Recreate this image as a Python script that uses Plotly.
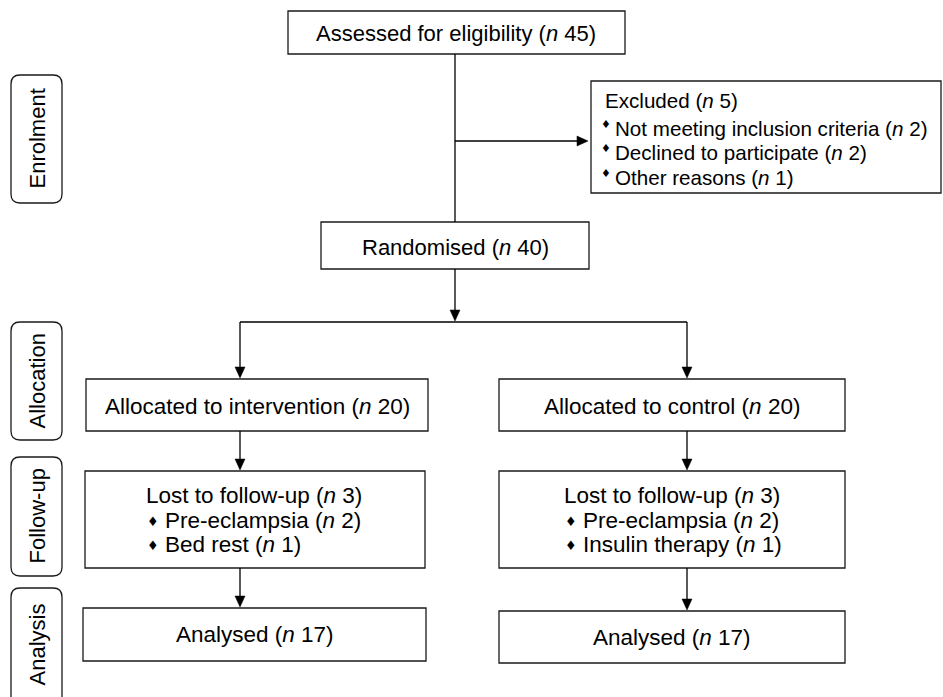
import plotly.graph_objects as go

# ---- content (text data) ----
stage_labels = ["Enrolment", "Allocation", "Follow-up", "Analysis"]
assessed_text = "Assessed for eligibility (<i>n</i> 45)"
randomised_text = "Randomised (<i>n</i> 40)"
excluded_title = "Excluded (<i>n</i> 5)"
excluded_items = ["Not meeting inclusion criteria (<i>n</i> 2)",
                  "Declined to participate (<i>n</i> 2)",
                  "Other reasons (<i>n</i> 1)"]
alloc_texts = ["Allocated to intervention (<i>n</i> 20)", "Allocated to control (<i>n</i> 20)"]
lost_titles = ["Lost to follow-up (<i>n</i> 3)", "Lost to follow-up (<i>n</i> 3)"]
lost_items = [["Pre-eclampsia (<i>n</i> 2)", "Bed rest (<i>n</i> 1)"],
              ["Pre-eclampsia (<i>n</i> 2)", "Insulin therapy (<i>n</i> 1)"]]
analysed_texts = ["Analysed (<i>n</i> 17)", "Analysed (<i>n</i> 17)"]
bullet = "♦"

# ---- layout geometry (pixel space of the 943x697 canvas) ----
W, H = 943, 697
FONT = "Liberation Sans, Arial, sans-serif"
FS = 22.5
LW = 1.3

stage_boxes = [(11, 75, 62, 203), (11, 322, 62, 440), (11, 457, 62, 576), (11, 588, 62, 712)]
stage_text_y = [139, 381, 516, 645]

assessed_box = (288, 11, 625, 54)
random_box = (321, 222, 589, 269)
excluded_box = (591, 81, 941, 193)
alloc_boxes = [(86, 379, 428, 431), (499, 379, 845, 431)]
lost_boxes = [(85, 471, 425, 568), (499, 471, 845, 568)]
analysed_boxes = [(83, 608, 426, 661), (499, 611, 845, 663)]
col_x = [240, 687]

shapes = []
annots = []


def rect(b):
    x0, y0, x1, y1 = b
    shapes.append(dict(type="rect", xref="x", yref="y", x0=x0, y0=y0, x1=x1, y1=y1,
                       line=dict(color="#1a1a1a", width=LW), fillcolor="white", layer="below"))


def rrect(b, r=9):
    x0, y0, x1, y1 = b
    p = (f"M {x0+r},{y0} L {x1-r},{y0} Q {x1},{y0} {x1},{y0+r} L {x1},{y1-r} "
         f"Q {x1},{y1} {x1-r},{y1} L {x0+r},{y1} Q {x0},{y1} {x0},{y1-r} "
         f"L {x0},{y0+r} Q {x0},{y0} {x0+r},{y0} Z")
    shapes.append(dict(type="path", xref="x", yref="y", path=p,
                       line=dict(color="#1a1a1a", width=LW), fillcolor="rgba(0,0,0,0)"))


def line(x0, y0, x1, y1):
    shapes.append(dict(type="line", xref="x", yref="y", x0=x0, y0=y0, x1=x1, y1=y1,
                       line=dict(color="black", width=LW)))


def arrow_down(x, y0, tip):
    line(x, y0, x, tip - 9)
    shapes.append(dict(type="path", xref="x", yref="y",
                       path=f"M {x-5},{tip-11} L {x+5},{tip-11} L {x},{tip} Z",
                       fillcolor="black", line=dict(color="black", width=0.5)))


def arrow_right(x0, y, tip):
    line(x0, y, tip - 9, y)
    shapes.append(dict(type="path", xref="x", yref="y",
                       path=f"M {tip-11},{y-5} L {tip-11},{y+5} L {tip},{y} Z",
                       fillcolor="black", line=dict(color="black", width=0.5)))


def text(x, y, s, anchor="center", angle=0, size=FS, family=FONT):
    annots.append(dict(x=x, y=y, xref="x", yref="y", text=s, showarrow=False,
                       xanchor=anchor, yanchor="middle", textangle=angle,
                       font=dict(family=family, size=size, color="black")))


# stage labels
for b, ty, lab in zip(stage_boxes, stage_text_y, stage_labels):
    rrect(b)
    text((b[0] + b[2]) / 2, ty, lab, angle=-90, size=22)

# top part
rect(assessed_box)
text(456, 33, assessed_text, size=22)
line(455, 54, 455, 222)
arrow_right(455, 141, 588)
rect(excluded_box)
text(603, 100, excluded_title, anchor="left", size=20.6)
for i, s in enumerate(excluded_items):
    yy = 128 + i * 24.5
    text(599, yy - 4, bullet, anchor="left", size=11, family="DejaVu Sans")
    text(613, yy, s, anchor="left", size=20.6)

rect(random_box)
text(455, 247, randomised_text, size=22)
arrow_down(455, 269, 321)
line(col_x[0], 322, col_x[1], 322)

lost_text_x = [144, 562]
for k in range(2):
    cx = col_x[k]
    arrow_down(cx, 322, 378)
    rect(alloc_boxes[k])
    b = alloc_boxes[k]
    text((b[0] + b[2]) / 2, 406, alloc_texts[k])
    arrow_down(cx, 431, 470)
    rect(lost_boxes[k])
    tx = lost_text_x[k]
    text(tx, 495, lost_titles[k], anchor="left")
    for i, s in enumerate(lost_items[k]):
        yy = 520 + i * 24.5
        text(tx + 1, yy + 1, bullet, anchor="left", size=13, family="DejaVu Sans")
        text(tx + 19, yy, s, anchor="left")
    arrow_down(cx, 568, analysed_boxes[k][1] - 1)
    b = analysed_boxes[k]
    rect(b)
    text((b[0] + b[2]) / 2, (b[1] + b[3]) / 2, analysed_texts[k])

fig = go.Figure()
fig.update_layout(
    width=W, height=H, margin=dict(l=0, r=0, t=0, b=0),
    paper_bgcolor="white", plot_bgcolor="white",
    xaxis=dict(range=[0, W], visible=False, fixedrange=True),
    yaxis=dict(range=[H, 0], visible=False, fixedrange=True),
    shapes=shapes, annotations=annots, showlegend=False,
)
fig.write_html("out.html", config={"displayModeBar": False},
               post_script="document.body.style.margin='0';document.body.style.overflow='hidden';")
